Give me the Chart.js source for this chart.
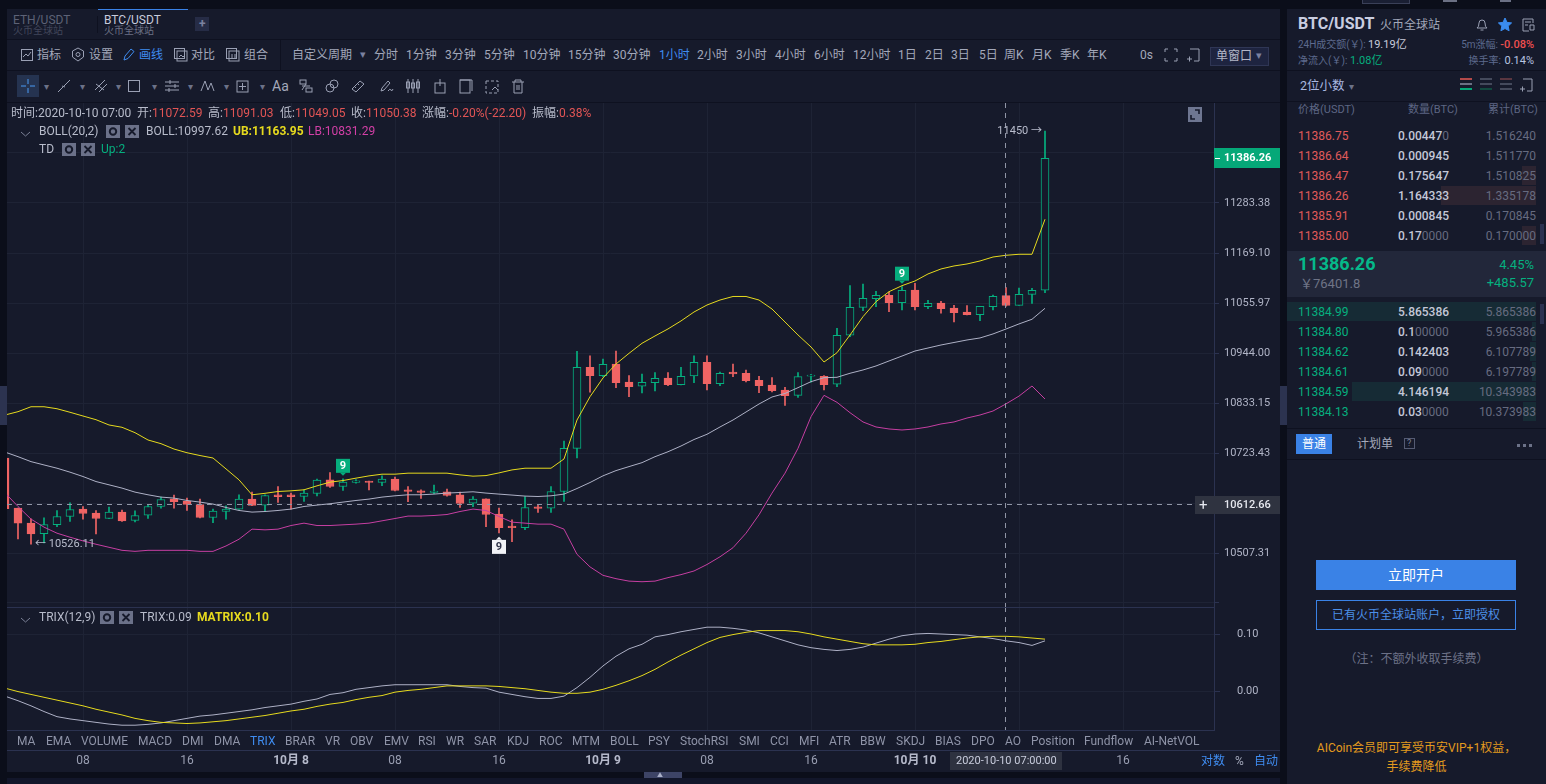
<!DOCTYPE html>
<html lang="zh">
<head>
<meta charset="UTF-8">
<title>BTC/USDT</title>
<script src="https://cdn.jsdelivr.net/npm/chart.js"></script>
<style>
    html, body { margin: 0; padding: 0; width: 1546px; height: 784px; overflow: hidden; background: #0b0e1a; }
    body { font-family: Roboto, "Noto Sans CJK SC", sans-serif; font-size: 12px; color: #a3a8ba; }
    #ui, #top { position: absolute; left: 0; top: 0; width: 1546px; height: 784px; }
    #ui span.t, #top span.t { position: absolute; white-space: nowrap; line-height: 16px; }
    .box { position: absolute; }
    canvas { position: absolute; left: 7px; }
    #priceChart { top: 103px; }
    #trixChart { top: 607px; }
</style>
</head>
<body>
<div id="ui"></div>
<canvas id="priceChart" width="1273" height="504"></canvas>
<canvas id="trixChart" width="1273" height="165"></canvas>
<div id="top"></div>

<script>
// candles, one per hour, first one is 2020-10-07 02:00
const opens = [
    10712.7,10604,10571.5,10549.1,10568.5,10585.8,10601.8,10593.2,10581.5,10595.3,
    10577.2,10588.8,10607.4,10624,10619.1,10611.7,10583.6,10596.6,10601.8,10623.4,
    10610.4,10632.7,10632.7,10629,10635.5,10665.1,10650.6,10659.3,10662.3,10659.3,
    10666.6,10643.5,10641.3,10637.7,10639.2,10632.7,10614.8,10624,10591,10565,
    10562,10606.8,10604,10639.8,10733.8,10912.3,10893.7,10919.6,10879.7,10870.2,
    10878.2,10888.6,10873.7,10893,10923.4,10875.9,10901.9,10899,10883.5,10873,
    10862,10850.2,10892.3,10892.3,10874.6,10983.6,11046.3,11065.7,11073.4,11056.6,
    11085.4,11047.7,11056,11044.8,11035.8,11029.8,11047.7,11072.59,11050.8,11075.6,11084.7];
const highs = [
    10713,10604,10580.9,10583,10598.8,10615.4,10607.4,10598.8,10606.1,10599.6,
    10598.1,10611.1,10627.7,10632,10625.6,10623.4,10601.8,10608.9,10632.7,10638.5,
    10632.7,10650.6,10636.4,10643.5,10666.6,10680.9,10667.3,10665.8,10662.3,10673.8,
    10671,10650.6,10643.5,10653.7,10645,10638.5,10629,10624,10604,10578.7,
    10629,10611.1,10650.6,10749.8,10947.8,10938,10930.7,10948.5,10893.7,10897.4,
    10900.3,10900.3,10912.3,10938,10938,10901.9,10919.6,10906.3,10892.3,10889.2,
    10868,10900.3,10896.8,10893.7,10999.3,11095.1,11098.9,11082.4,11080.8,11092.8,
    11100.5,11062.1,11059.8,11050.8,11050,11048.6,11074.1,11091.03,11089.9,11089.2,11450];
const lows = [
    10602,10537.6,10526.11,10529,10564.2,10575,10580.2,10548.4,10581,10575,
    10574.4,10581.5,10604,10604,10598.8,10583,10572.8,10580.2,10600.9,10609,
    10596.6,10616,10601.8,10618.2,10630.5,10648.5,10642,10658,10643.5,10652.2,
    10641.3,10617.6,10624.7,10634.9,10629.9,10605.3,10606.8,10564.2,10550.6,10531.8,
    10557.7,10594.5,10594.5,10618.2,10712.6,10856.9,10891.5,10867.1,10847.1,10855.3,
    10859.8,10871.5,10873,10878.2,10862,10871.5,10891.5,10879.7,10856,10857.5,
    10828.1,10845.8,10879,10862,10869.3,10980.5,11038.7,11047.7,11036.5,11040.3,
    11040.3,11043.2,11032.9,11013.4,11029.5,11016.3,11040.3,11049.05,11050.5,11055.3,11079.2];
const closes = [
    10602.5,10571.5,10548.4,10568.5,10585.8,10600.9,10592.3,10581.5,10595.3,10576.5,
    10588,10607.4,10622.5,10617.6,10611.7,10583.6,10597.5,10601.8,10623.4,10609.6,
    10631.2,10628.4,10628.4,10636.4,10664.5,10650.6,10660.1,10663,10659.3,10666.6,
    10642,10639.8,10637.7,10640.7,10631.2,10613.9,10623.4,10590.1,10562,10562,
    10605.3,10603.1,10639.8,10733.8,10912.3,10893.7,10919,10878.2,10869.3,10879,
    10887.9,10873.7,10892.3,10923.4,10875.9,10899,10897.4,10882.6,10871.5,10860.4,
    10849.3,10891.5,10895.2,10873.7,10983.6,11046.3,11066.6,11073.4,11056.6,11084.7,
    11047.7,11055.3,11043.2,11034.2,11029.8,11048.6,11071.1,11050.38,11075.6,11084.7,11386.26];

const bollMid = [
    10725.6,10715.5,10704.7,10697.5,10690.4,10681.8,10672.3,10661.4,10654.3,10647.2,
    10638.5,10632.7,10627.7,10625.6,10620.4,10616.9,10612.6,10605.3,10598.8,10595.3,
    10596.6,10598.8,10601.8,10607.4,10610.4,10613.3,10616.9,10620.4,10623.4,10627.7,
    10630.5,10632.7,10632.7,10634.2,10636.4,10637.7,10639.2,10636.4,10634.2,10632.1,
    10629.9,10629,10630.5,10634.2,10646.3,10659.3,10673.8,10685.2,10693.9,10702.5,
    10715.5,10726.3,10738.8,10753,10764.5,10780.5,10795.8,10813.4,10831,10846.5,
    10854.3,10867.1,10880.4,10889.2,10890.1,10899,10906.3,10915.2,10926.3,10937.3,
    10948.5,10955.2,10961.9,10967.5,10973.1,10977.6,10986.6,10997.62,11009,11019.5,11044.1];
const bollUpper = [
    10806.8,10814.1,10825,10825,10820.6,10812.8,10804.6,10796.5,10784.9,10779.8,
    10768,10752,10743.9,10732.2,10724.1,10718,10712.6,10688.9,10665.1,10632.7,
    10635.9,10639.8,10641.3,10643.5,10652.1,10660.1,10663.6,10668.8,10673.7,10677.4,
    10677.4,10679.6,10679.6,10679.6,10679.6,10675.9,10673.1,10674.4,10680.2,10686.7,
    10690.4,10690.4,10690.4,10710.5,10795.8,10847.1,10888.6,10919.6,10943.3,10965.7,
    10982.1,10997.8,11015.7,11035.8,11051.5,11062.7,11070.7,11070.7,11062.7,11042.5,
    11013.4,10984.3,10957.5,10924,10944.7,10984.3,11025.3,11059,11081.5,11095.1,
    11105.7,11121.6,11132.9,11139.7,11144.2,11151,11160,11163.95,11166.2,11166.2,11246.1];
const bollLower = [
    10637,10607.4,10580.2,10562.9,10549.9,10541.3,10533.3,10526.2,10519.7,10513.2,
    10511,10513.2,10513.2,10513.2,10513.2,10511,10511,10522.5,10537,10558.6,
    10557.1,10558.6,10566.4,10571.5,10566.4,10566.4,10567.9,10569.4,10571.5,10576.5,
    10581.5,10586.7,10586.7,10588,10590.1,10596.6,10601.8,10598.8,10585.8,10573.7,
    10571.5,10569.4,10569.4,10558.6,10504.6,10477.8,10459.8,10452.7,10447.5,10446.2,
    10447.5,10454.9,10461.3,10469.1,10482.9,10499.4,10518.8,10549.9,10589.5,10636.4,
    10679.6,10733.8,10803.1,10850.2,10834.7,10811.9,10791.5,10780.5,10776.1,10773.9,
    10776.1,10780.5,10787.1,10791.5,10800.2,10806.8,10815.6,10831.29,10848.5,10870.8,10842];

const trixLine = [
    -0.009,-0.017,-0.026,-0.036,-0.045,-0.049,-0.052,-0.055,-0.058,-0.060,
    -0.060,-0.0585,-0.056,-0.052,-0.048,-0.044,-0.042,-0.039,-0.036,-0.033,
    -0.029,-0.026,-0.023,-0.018,-0.014,-0.006,-0.003,0.003,0.006,0.009,
    0.011,0.011,0.011,0.011,0.011,0.008,0.006,0.005,-0.002,-0.006,
    -0.010,-0.013,-0.013,-0.009,0.006,0.024,0.044,0.061,0.074,0.082,
    0.095,0.099,0.104,0.108,0.112,0.112,0.110,0.107,0.102,0.095,
    0.088,0.081,0.076,0.073,0.071,0.073,0.077,0.084,0.091,0.097,
    0.100,0.101,0.100,0.099,0.098,0.095,0.092,0.088,0.085,0.080,0.088];
const matrixLine = [
    0.005,-0.001,-0.006,-0.011,-0.016,-0.021,-0.026,-0.032,-0.037,-0.042,
    -0.048,-0.052,-0.055,-0.056,-0.057,-0.056,-0.054,-0.052,-0.049,-0.046,
    -0.043,-0.039,-0.035,-0.032,-0.027,-0.023,-0.020,-0.015,-0.011,-0.008,
    -0.002,0.001,0.003,0.006,0.009,0.009,0.009,0.009,0.008,0.006,
    0.004,0.001,-0.002,-0.004,-0.004,-0.002,0.003,0.010,0.018,0.027,
    0.038,0.051,0.063,0.074,0.085,0.094,0.099,0.103,0.106,0.106,
    0.106,0.104,0.100,0.095,0.091,0.087,0.083,0.081,0.081,0.081,
    0.082,0.085,0.087,0.090,0.093,0.095,0.096,0.096,0.095,0.093,0.091];

const priceTicks = [11398.83, 11283.38, 11169.10, 11055.97, 10944.00, 10833.15, 10723.43, 10614.80, 10507.31, 10402.00];
const unlabelledTicks = [11398.83, 10614.80, 10402.00]; // covered by the price boxes or off the labelled range
const trixTicks = [0.10, 0.00];
const timeTickIndex = [6, 14, 22, 30, 38, 46, 54, 62, 70, 78, 86];
const timeTickLabels = ['08', '16', '10月 8', '08', '16', '10月 9', '08', '16', '10月 10', '08', '16'];

const crossIndex = 77;
const crossPrice = 10612.66;
const greenTags = [26, 69];
const whiteTags = [38];

const BG = '#161a2b', GRID = '#1e2335', AXIS = '#2b3250';
const GREEN = '#05b07f', RED = '#f06464', YELLOW = '#e6da1e', MAGENTA = '#c63fa2', SILVER = '#aeb1c6';
const FONT = 'Roboto, "Noto Sans CJK SC", sans-serif';

function series(values) {
    return values.map((v, i) => ({ x: i, y: v }));
}
function lineSet(values, color) {
    return { type: 'line', data: series(values), borderColor: color, borderWidth: 1, pointRadius: 0, tension: 0, order: 0 };
}
const isUp = i => closes[i] >= opens[i];
const isDateTick = c => (timeTickLabels[c.index] || '').includes('月');

// same horizontal mapping for both panels, one candle every 13px
const xMin = 0.1538, xMax = 93;
function noPad(scale) {
    scale.paddingTop = 0; scale.paddingBottom = 0; scale.paddingLeft = 0; scale.paddingRight = 0;
}
function crossV(chart) {
    const c = chart.ctx, a = chart.chartArea, x = chart.scales.x.getPixelForValue(crossIndex);
    c.save();
    c.strokeStyle = '#9095a6';
    c.setLineDash([5, 5]);
    c.beginPath(); c.moveTo(x - 0.5, a.top); c.lineTo(x - 0.5, a.bottom); c.stroke();
    c.restore();
}
function tag(c, x, top, label, fill, ink, pointUp) {
    c.fillStyle = fill;
    c.fillRect(x - 7, top, 14, 14);
    c.beginPath();
    if (pointUp) { c.moveTo(x - 3, top); c.lineTo(x, top - 3); c.lineTo(x + 3, top); }
    else { c.moveTo(x - 3, top + 14); c.lineTo(x, top + 17); c.lineTo(x + 3, top + 14); }
    c.fill();
    c.fillStyle = ink;
    c.font = '700 11px ' + FONT;
    c.textAlign = 'center'; c.textBaseline = 'middle';
    c.fillText(label, x, top + 7.5);
}

const priceOverlay = {
    id: 'priceOverlay',
    afterDatasetsDraw(chart) {
        const c = chart.ctx, a = chart.chartArea, X = chart.scales.x, Y = chart.scales.y;
        crossV(chart);
        c.save();
        const yc = Math.round(Y.getPixelForValue(crossPrice)) + 0.5;
        c.strokeStyle = '#9095a6';
        c.setLineDash([5, 5]);
        c.beginPath(); c.moveTo(a.left, yc); c.lineTo(a.right, yc); c.stroke();
        c.setLineDash([]);
        greenTags.forEach(i => tag(c, X.getPixelForValue(i), Y.getPixelForValue(highs[i]) - 20, '9', '#06ad7d', '#fff', false));
        whiteTags.forEach(i => tag(c, X.getPixelForValue(i), Y.getPixelForValue(lows[i]) + 7, '9', '#f2f3f7', '#30344a', true));
        c.fillStyle = '#b9bdcd';
        c.font = '11px ' + FONT;
        c.textBaseline = 'middle';
        c.textAlign = 'right';
        c.fillText(highs[80] + ' →', X.getPixelForValue(80) - 3, Y.getPixelForValue(highs[80]));
        c.textAlign = 'left';
        c.fillText('← ' + lows[2], X.getPixelForValue(2) + 4, Y.getPixelForValue(lows[2]));
        c.restore();
    }
};

new Chart(document.getElementById('priceChart'), {
    type: 'bar',
    data: {
        datasets: [
            lineSet(bollUpper, YELLOW),
            lineSet(bollMid, SILVER),
            lineSet(bollLower, MAGENTA),
            {
                data: opens.map((o, i) => ({ x: i, y: [o, closes[i]] })),
                barThickness: 8, grouped: false, order: 1, borderWidth: 1, borderSkipped: false,
                borderColor: opens.map((o, i) => isUp(i) ? GREEN : RED),
                backgroundColor: opens.map((o, i) => isUp(i) ? BG : RED)
            },
            {
                data: highs.map((h, i) => ({ x: i, y: [lows[i], h] })),
                barThickness: 1, grouped: false, order: 2, borderWidth: 0,
                backgroundColor: opens.map((o, i) => isUp(i) ? GREEN : RED)
            }
        ]
    },
    plugins: [priceOverlay],
    options: {
        responsive: false, animation: false, devicePixelRatio: 1,
        layout: { padding: 0 },
        plugins: { legend: { display: false }, tooltip: { enabled: false } },
        scales: {
            x: {
                type: 'linear', min: xMin, max: xMax, offset: false,
                afterBuildTicks: s => { s.ticks = timeTickIndex.map(v => ({ value: v })); },
                afterFit: s => { s.height = 0; noPad(s); },
                ticks: { display: false },
                grid: { color: GRID, drawTicks: false, offset: false },
                border: { display: false }
            },
            y: {
                type: 'logarithmic', position: 'right', min: 10392.6, max: 11515.4,
                afterBuildTicks: s => { s.ticks = priceTicks.map(v => ({ value: v })); },
                afterFit: s => { s.width = 66; noPad(s); },
                ticks: {
                    autoSkip: false, crossAlign: 'near', padding: 5, color: '#b0b4c6', font: { family: FONT, size: 11 },
                    callback: v => unlabelledTicks.includes(v) ? '' : v.toFixed(2)
                },
                grid: { color: GRID, tickColor: AXIS, tickLength: 5 },
                border: { color: AXIS }
            }
        }
    }
});

new Chart(document.getElementById('trixChart'), {
    type: 'line',
    data: { datasets: [lineSet(matrixLine, YELLOW), lineSet(trixLine, SILVER)] },
    plugins: [{ id: 'trixCross', afterDatasetsDraw: crossV }],
    options: {
        responsive: false, animation: false, devicePixelRatio: 1,
        layout: { padding: 0 },
        plugins: { legend: { display: false }, tooltip: { enabled: false } },
        scales: {
            x: {
                type: 'linear', min: xMin, max: xMax,
                afterBuildTicks: s => { s.ticks = timeTickIndex.map(v => ({ value: v })); },
                afterFit: s => { s.height = 42; noPad(s); },
                ticks: {
                    autoSkip: false, maxRotation: 0, padding: 24,
                    color: c => isDateTick(c) ? '#b6bacb' : '#9a9fb2',
                    font: c => ({ family: FONT, size: 12, weight: isDateTick(c) ? '700' : '400' }),
                    callback: (v, i) => timeTickLabels[i]
                },
                grid: { color: GRID, drawTicks: false },
                border: { display: false }
            },
            y: {
                position: 'right', min: -0.0684, max: 0.1474,
                afterBuildTicks: s => { s.ticks = trixTicks.map(v => ({ value: v })); },
                afterFit: s => { s.width = 66; noPad(s); },
                ticks: { autoSkip: false, crossAlign: 'near', padding: 17, color: '#b0b4c6', font: { family: FONT, size: 11 }, callback: v => v.toFixed(2) },
                grid: { color: GRID, tickColor: AXIS, tickLength: 6 },
                border: { color: AXIS }
            }
        }
    }
});

// ---- everything around the charts ----
const ui = document.getElementById('ui'), topUi = document.getElementById('top');

function rect(x, y, w, h, color, parent) {
    const d = document.createElement('div');
    d.className = 'box';
    d.style.cssText = `left:${x}px;top:${y}px;width:${w}px;height:${h}px;background:${color}`;
    (parent || ui).appendChild(d);
    return d;
}
function t(x, y, text, color, size, weight, parent) {
    const s = document.createElement('span');
    s.className = 't';
    s.textContent = text;
    s.style.cssText = `left:${x}px;top:${y - 8}px;color:${color || '#a3a8ba'};font-size:${size || 12}px;font-weight:${weight || 400}`;
    (parent || ui).appendChild(s);
    return s;
}
function tr(right, y, text, color, size, weight, parent) {
    const s = t(0, y, text, color, size, weight, parent);
    s.style.left = 'auto';
    s.style.right = (1546 - right) + 'px';
    return s;
}
function icon(x, y, w, h, body, parent) {
    const d = document.createElement('div');
    d.className = 'box';
    d.style.cssText = `left:${x}px;top:${y}px;width:${w}px;height:${h}px`;
    d.innerHTML = `<svg width="${w}" height="${h}" viewBox="0 0 ${w} ${h}" fill="none" stroke="#9aa0b4" stroke-width="1">${body}</svg>`;
    (parent || ui).appendChild(d);
    return d;
}

// panels
rect(7, 9, 1273, 763, BG);
rect(7, 778, 1273, 6, '#12162a');
rect(1287, 9, 259, 775, BG);
rect(0, 386, 7, 39, '#2c3350');
rect(1280, 386, 7, 39, '#2c3350');
[39, 70, 102].forEach(y => rect(7, y, 1273, 1, '#0e1120'));
rect(280, 40, 1, 30, '#0e1120');
// bits of the window bar cut off by the top edge
const cutBox = rect(1362, 0, 48, 4, '#1a1f33');
cutBox.style.border = '1px solid #3a4058';
cutBox.style.borderTop = 'none';
cutBox.style.boxSizing = 'border-box';
rect(1443, 0, 14, 2, '#6b7084');
rect(1500, 0, 11, 2, '#6b7084');

// chart tabs
rect(98, 9, 90, 1, '#3a82e6');
rect(97, 16, 1, 17, '#0e1120');
t(13, 20, 'ETH/USDT', '#5d6276', 12);
t(13, 31, '火币全球站', '#41465a', 10);
t(104, 20, 'BTC/USDT', '#c8ccdc', 12);
t(104, 31, '火币全球站', '#6b7084', 10);
rect(195, 17, 14, 14, '#262c46');
t(199, 24, '+', '#7b82a0', 12, 700);

// toolbar row 1
const toolLabels = ['指标', '设置', '画线', '对比', '组合'];
const toolX = [37, 89, 139, 191, 244];
toolLabels.forEach((s, i) => t(toolX[i], 55, s, i === 2 ? '#3f8cf0' : '#a3a8ba', 12));
icon(20, 48, 14, 14, '<rect x="1.5" y="1.5" width="11" height="11"/><path d="M3 9l3-3 2 2 3-4"/>');
icon(71, 47, 14, 15, '<path d="M7 1l5.5 3v6L7 14 1.5 10V4z"/><circle cx="7" cy="7.5" r="2"/>');
icon(122, 47, 14, 15, '<path d="M2 13l1-4 6-7 3 2.5-6 7z" stroke="#3f8cf0"/>');
icon(173, 47, 15, 15, '<rect x="1.5" y="1.5" width="10" height="10"/><rect x="4" y="4" width="10" height="10"/><path d="M6 10l2-2 2 2 2-2"/>');
icon(225, 47, 15, 15, '<rect x="1.5" y="1.5" width="10" height="10"/><rect x="4" y="4" width="10" height="10"/><path d="M7 7v4M10 7v4"/>');

const periodLabels = ['自定义周期', '分时', '1分钟', '3分钟', '5分钟', '10分钟', '15分钟', '30分钟', '1小时', '2小时', '3小时', '4小时', '6小时', '12小时', '1日', '2日', '3日', '5日', '周K', '月K', '季K', '年K', '0s'];
const periodX = [292, 374, 406, 445, 484, 523, 568, 613, 659, 697, 736, 775, 814, 853, 898, 925, 951, 979, 1004, 1032, 1060, 1087, 1140];
periodLabels.forEach((s, i) => t(periodX[i], 55, s, s === '1小时' ? '#3f8cf0' : '#a3a8ba', 12));
t(360, 55, '▾', '#7b82a0', 11);
icon(1164, 48, 14, 14, '<path d="M1 4V1h3M10 1h3v3M13 10v3h-3M4 13H1v-3"/>');
icon(1186, 48, 14, 14, '<path d="M4 1h9v12H8M1 11h5M3.5 8.5v5"/>');
const winBox = rect(1210, 47, 59, 19, '#1e2440');
winBox.style.border = '1px solid #2f3655';
winBox.style.boxSizing = 'border-box';
t(1216, 56, '单窗口', '#b4b8c8', 12);
t(1256, 56, '▾', '#7b82a0', 11);

// toolbar row 2
rect(17, 75, 22, 22, '#253350');
icon(20, 78, 16, 16, '<path d="M8 1v5M8 10v5M1 8h5M10 8h5" stroke="#4a9bf5"/>');
const drawIcons = [
    [56, '<path d="M2 14L14 2M6 8l3 1"/>'], [93, '<path d="M2 12L12 2M6 14L14 6M3 6l8 6"/>'],
    [127, '<rect x="1.5" y="2.5" width="11" height="11"/>'], [164, '<path d="M1 4h14M1 8h14M1 12h14M6 2v4M11 6v4M5 10v4"/>'],
    [200, '<path d="M1 13L5 3l3 9 3-7 3 8"/>'], [235, '<rect x="2" y="3" width="11" height="11"/><path d="M7.5 5v7M4 8.5h7"/>'],
    [298, '<rect x="2" y="2" width="6" height="4"/><rect x="8" y="10" width="6" height="4"/><path d="M4 8l8 0M4 12l4-6"/>'],
    [324, '<circle cx="6" cy="10" r="4"/><circle cx="10" cy="6" r="4"/>'], [350, '<path d="M2 11L10 3l4 3-8 8z"/><path d="M5 9l1 1M8 6l1 1"/>'],
    [379, '<path d="M2 13l1-3 6-7 2 2-6 7zM9 13q2-3 3-1t2-1"/>'], [405, '<path d="M3 1v14M8 1v14M13 1v14"/><rect x="1.5" y="4" width="3" height="6"/><rect x="6.5" y="5" width="3" height="5"/><rect x="11.5" y="4" width="3" height="6"/>'],
    [432, '<rect x="3" y="5" width="10" height="10"/><path d="M8 1v7"/>'], [457, '<rect x="3" y="2" width="10" height="13"/><path d="M3 2h12v11"/>'],
    [484, '<rect x="2" y="3" width="12" height="12" stroke-dasharray="3 2"/><path d="M8 12l3-3 3 3"/>'], [510, '<path d="M2 4h12M5 4V2h6v2M4 4v11h8V4M7 7v5M9 7v5"/>']
];
drawIcons.forEach(d => icon(d[0], 78, 16, 16, d[1]));
[44, 80, 116, 152, 188, 224, 260].forEach(x => t(x, 87, '▾', '#6c7288', 10));
t(272, 86, 'Aa', '#a3a8ba', 14);

// overlay: legends and side labels sit above the canvases
const gear = '<rect width="14" height="13" fill="#6b7189" stroke="none"/><circle cx="7" cy="6.5" r="3.2" stroke="#161a2b" stroke-width="2"/>';
const cross = '<rect width="14" height="13" fill="#6b7189" stroke="none"/><path d="M3.5 3l7 7M10.5 3l-7 7" stroke="#161a2b" stroke-width="1.8"/>';
const chevron = '<path d="M1 1l4.5 4L10 1" stroke="#7b8096"/>';

t(11, 113, '时间:2020-10-10 07:00', '#b8bccb', 12, 400, topUi);
const infoKeys = ['开:', '高:', '低:', '收:', '涨幅:', '振幅:'];
const infoVals = ['11072.59', '11091.03', '11049.05', '11050.38', '-0.20%(-22.20)', '0.38%'];
const infoX = [137, 208, 280, 351, 422, 532];
const infoValX = [152, 223, 295, 366, 449, 559];
infoKeys.forEach((k, i) => {
    t(infoX[i], 113, k, '#b8bccb', 12, 400, topUi);
    t(infoValX[i], 113, infoVals[i], '#e25555', 12, 400, topUi);
});

icon(20, 127, 11, 7, chevron, topUi);
t(39, 131, 'BOLL(20,2)', '#b8bccb', 12, 400, topUi);
icon(106, 125, 14, 13, gear, topUi);
icon(125, 125, 14, 13, cross, topUi);
t(146, 131, 'BOLL:10997.62', '#b8bccb', 12, 400, topUi);
t(233, 131, 'UB:11163.95', YELLOW, 12, 700, topUi);
t(308, 131, 'LB:10831.29', '#d23fa6', 12, 400, topUi);
t(39, 149, 'TD', '#b8bccb', 12, 400, topUi);
icon(62, 143, 14, 13, gear, topUi);
icon(81, 143, 14, 13, cross, topUi);
t(101, 149, 'Up:2', '#05b07f', 12, 400, topUi);

rect(1188, 107, 14, 15, '#6e7691', topUi);
icon(1188, 107, 14, 15, '<path d="M3 8v4h4M11 7V3H7" stroke="#161a2b" stroke-width="1.6"/>', topUi);

rect(1214, 148, 66, 20, '#05a878', topUi);
rect(1215, 158, 5, 1, '#fff', topUi);
t(1224, 158, '11386.26', '#fff', 11, 700, topUi);
rect(1195, 496, 85, 18, '#2f3340', topUi);
t(1199, 505, '+', '#e6e8ef', 15, 400, topUi);
t(1224, 505, '10612.66', '#e6e8ef', 11, 500, topUi);

rect(7, 607, 1207, 1, AXIS, topUi);
rect(7, 730, 1207, 1, AXIS, topUi);
rect(7, 750, 1273, 1, AXIS, topUi);
icon(20, 613, 11, 7, chevron, topUi);
t(39, 617, 'TRIX(12,9)', '#b8bccb', 12, 400, topUi);
icon(100, 611, 14, 13, gear, topUi);
icon(119, 611, 14, 13, cross, topUi);
t(140, 617, 'TRIX:0.09', '#b8bccb', 12, 400, topUi);
t(197, 617, 'MATRIX:0.10', YELLOW, 12, 700, topUi);

const indicatorLabels = ['MA', 'EMA', 'VOLUME', 'MACD', 'DMI', 'DMA', 'TRIX', 'BRAR', 'VR', 'OBV', 'EMV', 'RSI', 'WR', 'SAR', 'KDJ', 'ROC', 'MTM', 'BOLL', 'PSY', 'StochRSI', 'SMI', 'CCI', 'MFI', 'ATR', 'BBW', 'SKDJ', 'BIAS', 'DPO', 'AO', 'Position', 'Fundflow', 'AI-NetVOL'];
const indicatorX = [17, 46, 81, 138, 182, 214, 250, 285, 325, 350, 384, 418, 446, 474, 507, 539, 572, 610, 648, 680, 739, 770, 799, 829, 860, 896, 935, 971, 1005, 1031, 1084, 1144];
indicatorLabels.forEach((s, i) => t(indicatorX[i], 741, s, s === 'TRIX' ? '#3f8cf0' : '#8f94a8', 12, 400, topUi));

rect(950, 752, 112, 18, '#2e3240', topUi);
t(956, 761, '2020-10-10 07:00:00', '#c8ccdc', 11, 400, topUi);
t(1201, 761, '对数', '#3f8cf0', 12, 400, topUi);
t(1235, 761, '%', '#a3a8ba', 12, 400, topUi);
t(1254, 761, '自动', '#3f8cf0', 12, 400, topUi);

// little scroll handle under the time axis
rect(644, 772, 38, 6, '#3d4466', topUi);
t(657, 775, '▲', '#aab0c8', 6, 400, topUi);

// ---- right panel ----
t(1298, 24, 'BTC/USDT', '#c9cde0', 16, 700);
t(1380, 25, '火币全球站', '#a3a8ba', 12);
icon(1475, 17, 14, 15, '<path d="M2 11q2-1 2-5a3 3 0 0 1 6 0q0 4 2 5zM5.5 13h3"/>');
icon(1498, 17, 14, 15, '<path d="M7 1l2 4.4 4.6.5-3.4 3.2.9 4.7L7 11.5 2.9 13.8l.9-4.7L.4 5.9 5 5.4z" fill="#3a8cf0" stroke="#3a8cf0"/>');
icon(1521, 17, 14, 15, '<path d="M12 6V2H2v12h6M4 5h6M4 8h3"/><path d="M9 8h4v5H9z"/>');
t(1298, 45, '24H成交额(￥):', '#5d6a8e', 10);
t(1368, 45, '19.19亿', '#c8ccdc', 11);
tr(1498, 45, '5m涨幅:', '#5d6a8e', 10);
tr(1534, 45, '-0.08%', '#ef4f4f', 11, 500);
t(1298, 61, '净流入(￥):', '#5d6a8e', 10);
t(1350, 61, '1.08亿', '#05b07f', 11);
tr(1501, 61, '换手率:', '#5d6a8e', 10);
tr(1534, 61, '0.14%', '#b8c4e0', 11);
rect(1287, 70, 259, 1, '#0e1120');
rect(1287, 101, 259, 1, '#0e1120');
t(1300, 86, '2位小数', '#a9b8e0', 12.5);
t(1349, 87, '▾', '#6c7288', 10);
const stackColors = [['#b34a4a', '#6b7084', '#05a878'], ['#444a5c', '#444a5c', '#12493f'], ['#5a3640', '#444a5c', '#444a5c']];
stackColors.forEach((cols, k) => cols.forEach((col, j) => rect(1460 + k * 20, 78 + j * 5, 12, 2, col)));
icon(1519, 78, 14, 14, '<path d="M4 1h9v12H8M1 11h5M3.5 8.5v5"/>');

t(1298, 110, '价格(USDT)', '#5d6684', 11);
t(1408, 110, '数量(BTC)', '#5d6684', 11);
t(1488, 110, '累计(BTC)', '#5d6684', 11);

const askPrices = ['11386.75', '11386.64', '11386.47', '11386.26', '11385.91', '11385.00'];
const askQty = [['0.00447', '0'], ['0.000945', ''], ['0.175647', ''], ['1.164333', ''], ['0.000845', ''], ['0.17', '0000']];
const askTotal = ['1.516240', '1.511770', '1.510825', '1.335178', '0.170845', '0.170000'];
const bidPrices = ['11384.99', '11384.80', '11384.62', '11384.61', '11384.59', '11384.13'];
const bidQty = [['5.865386', ''], ['0.1', '00000'], ['0.142403', ''], ['0.09', '0000'], ['4.146194', ''], ['0.03', '0000']];
const bidTotal = ['5.865386', '5.965386', '6.107789', '6.197789', '10.343983', '10.373983'];

// depth shading behind the rows
[[1522, 166], [1441, 186], [1522, 226]].forEach(b => rect(b[0], b[1], 1536 - b[0], 19, '#2c2431'));
[[1287, 302], [1532, 322], [1530, 342], [1532, 362], [1352, 382], [1523, 402]].forEach(b => rect(b[0], b[1], 1536 - b[0], 19, '#162b35'));
rect(1540, 224, 4, 20, '#2b3250');
rect(1540, 304, 4, 20, '#2b3250');

function bookRow(y, price, qty, total, color) {
    t(1298, y, price, color, 12);
    const q = t(1398, y, qty[0], '#c4c8d8', 12, 500);
    if (qty[1]) {
        const dim = document.createElement('span');
        dim.textContent = qty[1];
        dim.style.cssText = 'color:#666b80;font-weight:400';
        q.appendChild(dim);
    }
    tr(1536, y, total, '#666b80', 12);
}
askPrices.forEach((p, i) => bookRow(136 + i * 20, p, askQty[i], askTotal[i], '#e05a5a'));
bidPrices.forEach((p, i) => bookRow(312 + i * 20, p, bidQty[i], bidTotal[i], '#05b07f'));

rect(1287, 251, 259, 46, '#22273a');
t(1298, 264, '11386.26', '#05b98a', 18, 700);
tr(1534, 265, '4.45%', '#05b07f', 13);
t(1300, 284, '￥76401.8', '#6f7486', 13);
tr(1534, 283, '+485.57', '#05b07f', 13);

rect(1287, 428, 259, 1, '#0e1120');
rect(1287, 459, 259, 1, '#0e1120');
rect(1296, 434, 36, 20, '#3a82e6');
t(1302, 444, '普通', '#fff', 12);
t(1357, 444, '计划单', '#a3a8ba', 12);
const helpBox = rect(1404, 438, 11, 11, 'transparent');
helpBox.style.border = '1px solid #555b73';
helpBox.style.boxSizing = 'border-box';
t(1407, 443, '?', '#7b8096', 9);
[1517, 1523, 1529].forEach(x => rect(x, 444, 3, 3, '#6c7288'));

const openBtn = rect(1316, 560, 200, 30, '#3a82e6');
openBtn.style.cssText += ';color:#fff;font-size:14px;line-height:30px;text-align:center';
openBtn.textContent = '立即开户';
const authBtn = rect(1316, 600, 200, 30, 'transparent');
authBtn.style.cssText += ';border:1px solid #3a82e6;box-sizing:border-box;color:#4c8fe8;font-size:12px;line-height:28px;text-align:center';
authBtn.textContent = '已有火币全球站账户，立即授权';

function centered(y, text, color) {
    const d = rect(1287, y - 9, 259, 18, 'transparent');
    d.style.cssText += `;color:${color};font-size:12px;line-height:18px;text-align:center`;
    d.textContent = text;
}
centered(659, '（注：不额外收取手续费）', '#6c7187');
centered(748, 'AICoin会员即可享受币安VIP+1权益，', '#e39a1e');
centered(767, '手续费降低', '#e39a1e');
</script>
</body>
</html>
